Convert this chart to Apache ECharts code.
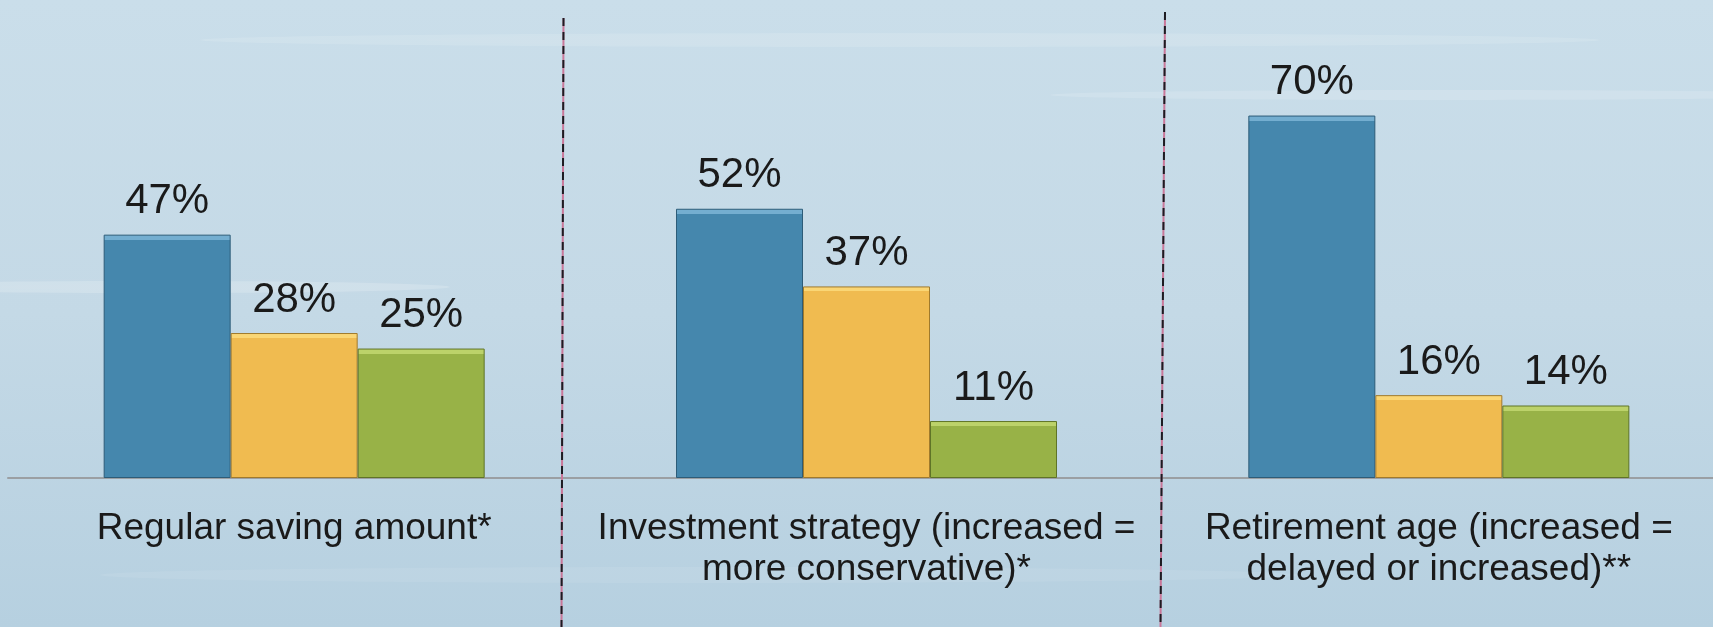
<!DOCTYPE html>
<html>
<head>
<meta charset="utf-8">
<script src="https://cdn.jsdelivr.net/npm/echarts@6/dist/echarts.min.js"></script>
<style>
html,body{margin:0;padding:0;width:1713px;height:627px;overflow:hidden;background:#c4d9e6;}
#chart{width:1730px;height:627px;}
</style>
</head>
<body>
<div id="chart"></div>
<script>
const categories = [
  'Regular saving amount*',
  'Investment strategy (increased =\nmore conservative)*',
  'Retirement age (increased =\ndelayed or increased)**'
];
const seriesNames = ['Increased', 'Stayed the same', 'Decreased'];
const increasedValues = [47, 52, 70];
const sameValues = [28, 37, 16];
const decreasedValues = [25, 11, 14];

const palette = [
  {base: '#4587ad', light: '#74aed0', edge: '#2d5c78'},
  {base: '#f0bb50', light: '#fad675', edge: '#a07a2c'},
  {base: '#98b247', light: '#bcd26a', edge: '#5f7427'}
];

const yMax = 90;
const gridTop = 12, gridBottom = 149;
const pxPerUnit = (627 - gridTop - gridBottom) / yMax;

function makeData(values, pal) {
  return values.map(v => {
    const h = v * pxPerUnit;
    const s = Math.min(0.5, 5 / h);
    return {
      value: v,
      itemStyle: {
        color: new echarts.graphic.LinearGradient(0, 0, 0, 1, [
          {offset: 0, color: pal.light},
          {offset: s, color: pal.light},
          {offset: s + 0.0001, color: pal.base},
          {offset: 1, color: pal.base}
        ])
      }
    };
  });
}

const chart = echarts.init(document.getElementById('chart'), null, {renderer: 'canvas'});
const fontFam = '"Liberation Sans", Arial, Helvetica, sans-serif';

const allValues = [increasedValues, sameValues, decreasedValues];

const option = {
  animation: false,
  backgroundColor: new echarts.graphic.LinearGradient(0, 0, 0, 1, [
    {offset: 0, color: '#cadeea'},
    {offset: 0.5, color: '#c4d9e6'},
    {offset: 1, color: '#b6d0e0'}
  ]),
  graphic: [
    {type: 'ellipse', shape: {cx: 150, cy: 287, rx: 300, ry: 6}, style: {fill: 'rgba(255,255,255,0.18)', shadowBlur: 12, shadowColor: 'rgba(255,255,255,0.3)'}, silent: true, z: -10},
    {type: 'ellipse', shape: {cx: 900, cy: 40, rx: 700, ry: 7}, style: {fill: 'rgba(255,255,255,0.12)', shadowBlur: 14, shadowColor: 'rgba(255,255,255,0.3)'}, silent: true, z: -10},
    {type: 'ellipse', shape: {cx: 1450, cy: 95, rx: 400, ry: 5}, style: {fill: 'rgba(255,255,255,0.14)', shadowBlur: 12, shadowColor: 'rgba(255,255,255,0.3)'}, silent: true, z: -10},
    {type: 'ellipse', shape: {cx: 700, cy: 575, rx: 600, ry: 8}, style: {fill: 'rgba(255,255,255,0.08)', shadowBlur: 14, shadowColor: 'rgba(255,255,255,0.2)'}, silent: true, z: -10},
    {type: 'line', shape: {x1: 563.5, y1: 18, x2: 561.5, y2: 627}, style: {stroke: '#c9789a', lineWidth: 2}, silent: true, z: 5},
    {type: 'line', shape: {x1: 563.5, y1: 18, x2: 561.5, y2: 627}, style: {stroke: '#1c1c22', lineWidth: 2, lineDash: [8, 6]}, silent: true, z: 6},
    {type: 'line', shape: {x1: 1165, y1: 12, x2: 1160.5, y2: 627}, style: {stroke: '#c9789a', lineWidth: 2}, silent: true, z: 5},
    {type: 'line', shape: {x1: 1165, y1: 12, x2: 1160.5, y2: 627}, style: {stroke: '#1c1c22', lineWidth: 2, lineDash: [8, 6]}, silent: true, z: 6}
  ],
  grid: {left: 8, width: 1717, top: gridTop, bottom: gridBottom, containLabel: false},
  xAxis: {
    type: 'category',
    data: categories,
    axisLine: {show: true, lineStyle: {color: '#9b9fa3', width: 2}},
    axisTick: {show: false},
    splitLine: {show: false},
    axisLabel: {
      interval: 0,
      margin: 30,
      fontSize: 37,
      lineHeight: 41,
      color: '#1a1a1a',
      fontFamily: fontFam,
      align: 'center'
    }
  },
  yAxis: {
    type: 'value',
    min: 0,
    max: yMax,
    show: false,
    splitLine: {show: false}
  },
  series: allValues.map((vals, i) => ({
    name: seriesNames[i],
    type: 'bar',
    data: makeData(vals, palette[i]),
    barWidth: 127,
    barGap: '0%',
    itemStyle: {borderColor: palette[i].edge, borderWidth: 1},
    label: {
      show: true,
      position: 'top',
      distance: 12,
      formatter: '{c}%',
      fontSize: 42,
      color: '#1a1a1a',
      fontFamily: fontFam
    }
  }))
};
chart.setOption(option);
</script>
</body>
</html>
